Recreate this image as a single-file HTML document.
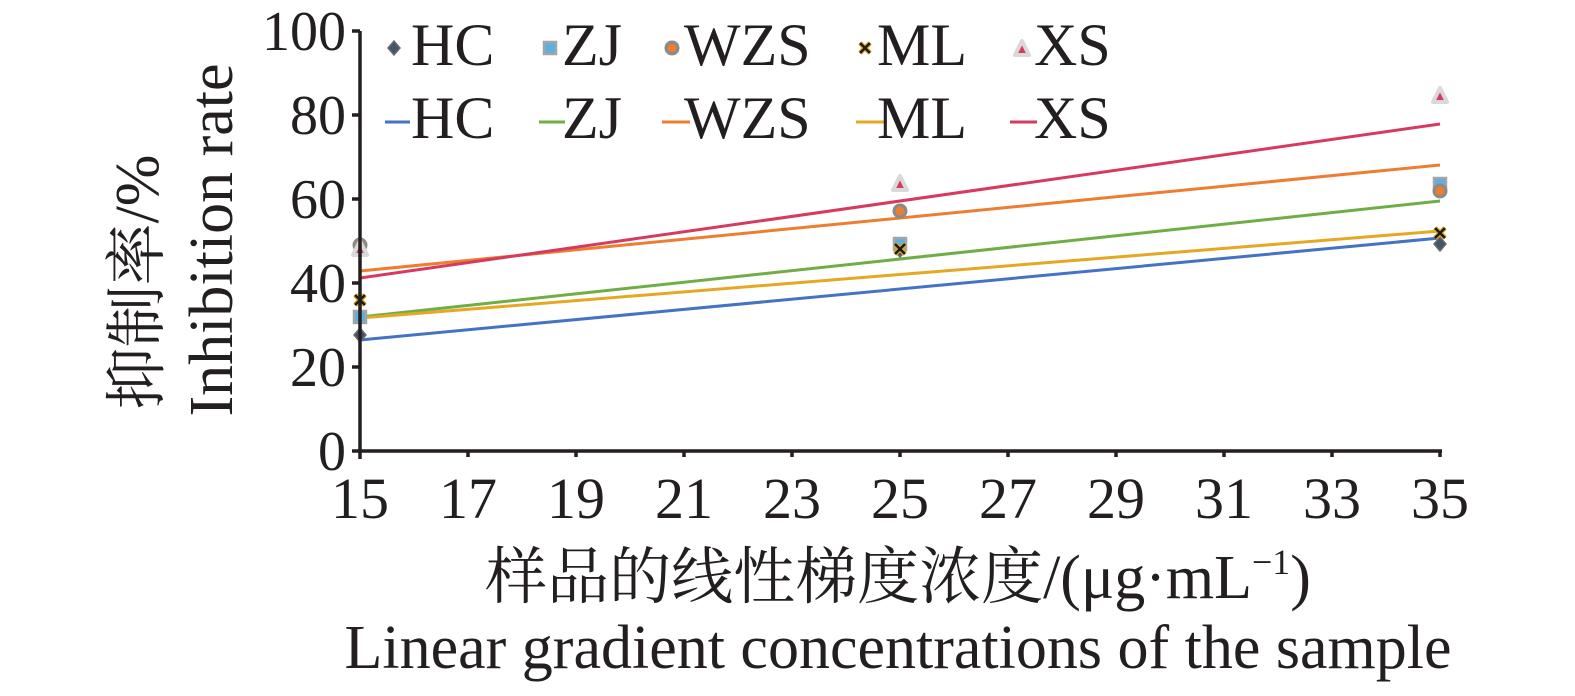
<!DOCTYPE html>
<html><head><meta charset="utf-8"><style>
body{margin:0;background:#fff;}
svg text{font-family:"Liberation Serif","Noto Serif CJK SC",serif;fill:#231f20;}
</style></head><body>
<svg width="1575" height="691" viewBox="0 0 1575 691" xmlns="http://www.w3.org/2000/svg">
<g stroke-width="3" fill="none">
<line x1="360" y1="340" x2="1440" y2="238" stroke="#4472c4"/>
<line x1="360" y1="317" x2="1440" y2="201" stroke="#70ad47"/>
<line x1="360" y1="271" x2="1440" y2="165" stroke="#ed7d31"/>
<line x1="360" y1="318" x2="1440" y2="231" stroke="#e5a823"/>
<line x1="360" y1="278" x2="1440" y2="124" stroke="#d63a5e"/>
</g>
<defs>
<g id="hc"><polygon points="0,-7 6,0 0,7 -6,0" fill="#44546a" stroke="#6a6a6a" stroke-width="1.5"/></g>
<g id="zj"><rect x="-6" y="-6" width="12" height="12" fill="#5ab0e0" stroke="#a5a5a5" stroke-width="2.5"/></g>
<g id="wzs"><circle r="6" fill="#ed7d31" stroke="#8a8a8a" stroke-width="3"/></g>
<g id="ml"><path d="M-5,-5L5,5M5,-5L-5,5" stroke="#e5a823" stroke-width="5"/><path d="M-5,-5L5,5M5,-5L-5,5" stroke="#1a1a1a" stroke-width="2.5"/></g>
<g id="xs"><polygon points="0,-8 7,6 -7,6" fill="#d63a5e" stroke="#d9d9d9" stroke-width="4" stroke-linejoin="round"/></g>
</defs>
<use href="#wzs" x="360" y="245"/><use href="#xs" x="360" y="249"/>
<use href="#hc" x="360" y="335"/><use href="#zj" x="360" y="317"/><use href="#ml" x="360" y="300"/>
<use href="#xs" x="900" y="184"/><use href="#wzs" x="900" y="211"/>
<use href="#hc" x="900" y="250"/><use href="#zj" x="900" y="244"/><use href="#ml" x="900" y="249"/>
<use href="#xs" x="1440" y="96"/><use href="#zj" x="1440" y="184"/><use href="#wzs" x="1440" y="191"/>
<use href="#hc" x="1440" y="244"/><use href="#ml" x="1440" y="233"/>
<g stroke="#231f20" stroke-width="3.5" fill="none">
<line x1="360" y1="31" x2="360" y2="453"/>
<line x1="358" y1="451" x2="1442" y2="451"/>
<line x1="352" y1="31" x2="360" y2="31"/><line x1="352" y1="115" x2="360" y2="115"/>
<line x1="352" y1="199" x2="360" y2="199"/><line x1="352" y1="283" x2="360" y2="283"/>
<line x1="352" y1="367" x2="360" y2="367"/><line x1="352" y1="451" x2="360" y2="451"/>
<line x1="360" y1="451" x2="360" y2="459"/><line x1="468" y1="451" x2="468" y2="457"/>
<line x1="576" y1="451" x2="576" y2="457"/><line x1="684" y1="451" x2="684" y2="457"/>
<line x1="792" y1="451" x2="792" y2="457"/><line x1="900" y1="451" x2="900" y2="457"/>
<line x1="1008" y1="451" x2="1008" y2="457"/><line x1="1116" y1="451" x2="1116" y2="457"/>
<line x1="1224" y1="451" x2="1224" y2="457"/><line x1="1332" y1="451" x2="1332" y2="457"/>
<line x1="1440" y1="451" x2="1440" y2="457"/>
</g>
<g font-size="56" text-anchor="end">
<text x="346" y="50">100</text><text x="346" y="134">80</text><text x="346" y="218">60</text>
<text x="346" y="302">40</text><text x="346" y="386">20</text><text x="346" y="470">0</text>
</g>
<g font-size="58" text-anchor="middle">
<text x="360" y="518">15</text><text x="468" y="518">17</text><text x="576" y="518">19</text>
<text x="684" y="518">21</text><text x="792" y="518">23</text><text x="900" y="518">25</text>
<text x="1008" y="518">27</text><text x="1116" y="518">29</text><text x="1224" y="518">31</text>
<text x="1332" y="518">33</text><text x="1440" y="518">35</text>
</g>
<g font-size="62" text-anchor="middle">
<text x="898" y="598">样品的线性梯度浓度/(μg·mL<tspan font-size="36" dy="-24">−1</tspan><tspan dy="24">)</tspan></text>
<text x="898" y="668">Linear gradient concentrations of the sample</text>
<text transform="translate(158,282) rotate(-90)">抑制率/%</text>
<text transform="translate(232,240) rotate(-90)">Inhibition rate</text>
</g>
<g font-size="60">
<use href="#hc" x="394" y="48"/><text x="411" y="65">HC</text>
<use href="#zj" x="550" y="48"/><text x="562" y="65">ZJ</text>
<use href="#wzs" x="672" y="48"/><text x="684" y="65">WZS</text>
<use href="#ml" x="865" y="48"/><text x="877" y="65">ML</text>
<use href="#xs" x="1022" y="49"/><text x="1034" y="65">XS</text>
<g stroke-width="3"><line x1="385" y1="122" x2="410" y2="122" stroke="#4472c4"/>
<line x1="539" y1="122" x2="565" y2="122" stroke="#70ad47"/>
<line x1="662" y1="122" x2="690" y2="122" stroke="#ed7d31"/>
<line x1="856" y1="122" x2="884" y2="122" stroke="#e5a823"/>
<line x1="1010" y1="122" x2="1037" y2="122" stroke="#d63a5e"/></g>
<text x="411" y="138">HC</text><text x="562" y="138">ZJ</text><text x="684" y="138">WZS</text>
<text x="877" y="138">ML</text><text x="1034" y="138">XS</text>
</g>
</svg>
</body></html>
